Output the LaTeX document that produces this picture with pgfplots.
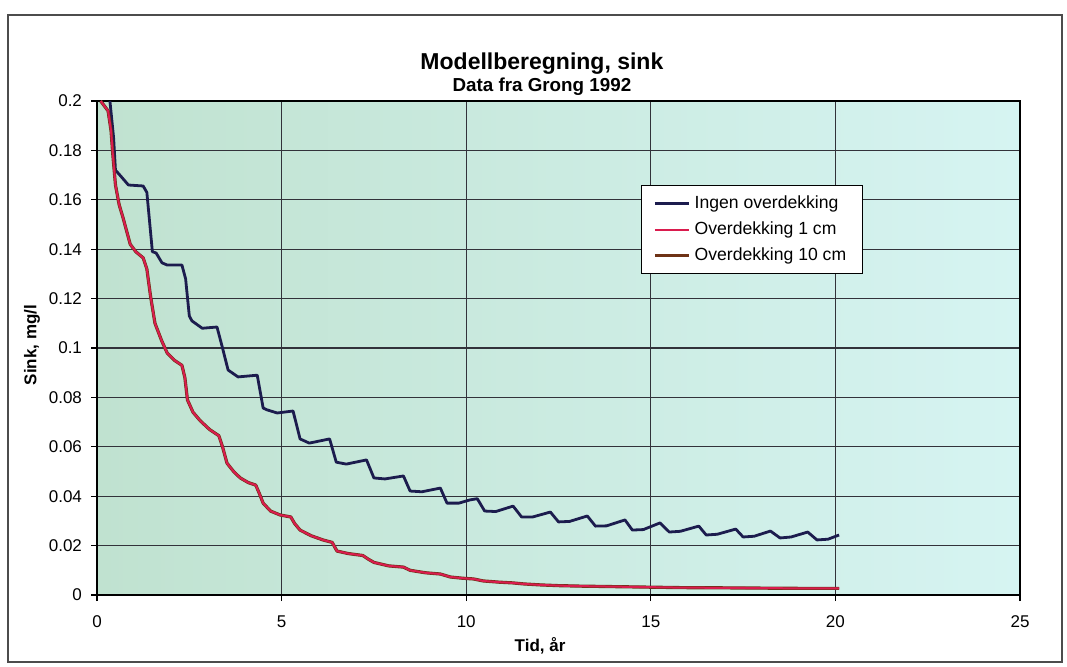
\documentclass[border=0pt]{standalone}
\usepackage{pgfplots}
\pgfplotsset{compat=1.18}
\usepackage{fontspec}
\setmainfont{Liberation Sans}
\definecolor{navyline}{RGB}{28,28,78}
\definecolor{redline}{RGB}{218,28,78}
\definecolor{brownline}{RGB}{110,50,22}
\definecolor{bgleft}{RGB}{192,226,208}
\definecolor{bgright}{RGB}{214,244,242}
\definecolor{gridc}{RGB}{50,50,58}

\pgfplotstableread{
x y
0.35 0.200
0.45 0.185
0.50 0.172
0.62 0.170
0.85 0.166
1.25 0.1656
1.35 0.163
1.50 0.139
1.60 0.1385
1.76 0.1345
1.90 0.1336
2.30 0.1336
2.40 0.128
2.50 0.113
2.57 0.111
2.85 0.108
3.25 0.1085
3.40 0.100
3.55 0.0911
3.82 0.0883
4.34 0.0890
4.50 0.0757
4.60 0.0750
4.88 0.0737
5.31 0.0745
5.50 0.0632
5.75 0.0615
6.30 0.0632
6.48 0.0538
6.75 0.0530
7.30 0.0547
7.50 0.0474
7.80 0.0470
8.30 0.0482
8.48 0.0421
8.80 0.0418
9.30 0.0433
9.48 0.0372
9.80 0.0372
10.10 0.0385
10.30 0.0390
10.50 0.0340
10.80 0.0338
11.27 0.0360
11.50 0.0316
11.80 0.0316
12.28 0.0336
12.50 0.0296
12.80 0.0298
13.28 0.0320
13.50 0.0279
13.80 0.0280
14.30 0.0304
14.50 0.0263
14.80 0.0265
15.25 0.0292
15.50 0.0255
15.80 0.0258
16.30 0.0279
16.50 0.0243
16.80 0.0246
17.30 0.0267
17.50 0.0235
17.80 0.0238
18.24 0.0259
18.50 0.0231
18.80 0.0235
19.25 0.0255
19.50 0.0223
19.80 0.0226
20.10 0.0243
}\ingen

\pgfplotstableread{
x y
0.10 0.200
0.30 0.196
0.38 0.188
0.43 0.178
0.50 0.166
0.60 0.158
0.70 0.153
0.90 0.142
1.05 0.139
1.25 0.1365
1.35 0.132
1.45 0.121
1.57 0.110
1.75 0.103
1.90 0.098
2.10 0.095
2.30 0.093
2.38 0.088
2.45 0.079
2.60 0.074
2.80 0.0705
3.05 0.067
3.30 0.0645
3.40 0.060
3.52 0.0534
3.70 0.050
3.88 0.0474
4.10 0.0455
4.30 0.0445
4.40 0.041
4.50 0.0372
4.70 0.034
4.96 0.0324
5.25 0.0316
5.35 0.029
5.50 0.0263
5.80 0.024
6.12 0.0223
6.37 0.0213
6.50 0.0178
6.80 0.0168
7.20 0.0160
7.35 0.0145
7.50 0.0132
7.90 0.0118
8.30 0.0113
8.48 0.0100
8.90 0.0090
9.30 0.0085
9.57 0.0073
9.90 0.0068
10.20 0.0065
10.46 0.0057
10.90 0.0052
11.27 0.0049
11.55 0.0045
12.00 0.0041
12.50 0.0038
13.10 0.0036
14.00 0.0034
14.90 0.0032
15.80 0.0030
17.00 0.0029
18.00 0.0028
19.00 0.0027
20.10 0.0027
}\dekk

\begin{document}
\begin{tikzpicture}
\begin{axis}[
  scale only axis,
  width=461.5pt, height=247pt,
  xmin=0, xmax=25, ymin=0, ymax=0.2,
  xtick={0,5,...,25},
  ytick={0,0.02,...,0.2},
  clip=false,
  axis background/.style={left color=bgleft, right color=bgright},
  grid=major,
  major grid style={gridc, line width=0.6pt},
  axis line style={black, line width=0.8pt},
  tick style={black, line width=0.6pt},
  tick align=outside,
  major tick length=3pt,
  xtick pos=bottom, ytick pos=left,
  /pgf/number format/assume math mode=true,
  /pgf/number format/.cd, fixed, precision=2, /pgfplots/.cd,
  ticklabel style={font=\fontsize{8.5}{10}\selectfont},
  xticklabel style={yshift=-4pt},
  yticklabel style={xshift=-1pt},
  xlabel={Tid, år},
  ylabel={Sink, mg/l},
  xlabel style={font=\bfseries\fontsize{8.5}{10}\selectfont, at={(axis description cs:0.480,-0.103)}, anchor=center},
  ylabel style={font=\bfseries\fontsize{8.5}{10}\selectfont, at={(axis description cs:-0.0704,0.506)}, anchor=center},
  legend style={at={(0.589,0.830)}, anchor=north west, draw=black, fill=white,
    font=\fontsize{8.8}{10.5}\selectfont, line width=0.6pt, row sep=1.2pt,
    inner xsep=6pt, inner ysep=3pt},
  legend cell align=left,
]
\path (rel axis cs:-0.1051,-0.1437) rectangle (rel axis cs:1.0509,1.2045);
\draw[line width=0.6pt, black!70] (rel axis cs:-0.0964,-0.1356) rectangle (rel axis cs:1.0455,1.174);
\node[font=\bfseries\fontsize{11.5}{13}\selectfont] at (rel axis cs:0.482,1.076) {Modellberegning, sink};
\node[font=\bfseries\fontsize{9.4}{11}\selectfont] at (rel axis cs:0.482,1.030) {Data fra Grong 1992};

\addplot[navyline, line width=1.4pt, line join=round] table[x=x,y=y] {\ingen};
\addlegendentry{Ingen overdekking}
\addplot[redline, line width=1.0pt] table[x=x,y=y] {\dekk};
\addlegendentry{Overdekking 1 cm}
\addplot[brownline, line width=1.6pt, line join=round] table[x=x,y=y] {\dekk};
\addlegendentry{Overdekking 10 cm}
\addplot[redline, line width=1.0pt, line join=round, forget plot] table[x=x,y=y] {\dekk};
\end{axis}
\end{tikzpicture}
\end{document}
